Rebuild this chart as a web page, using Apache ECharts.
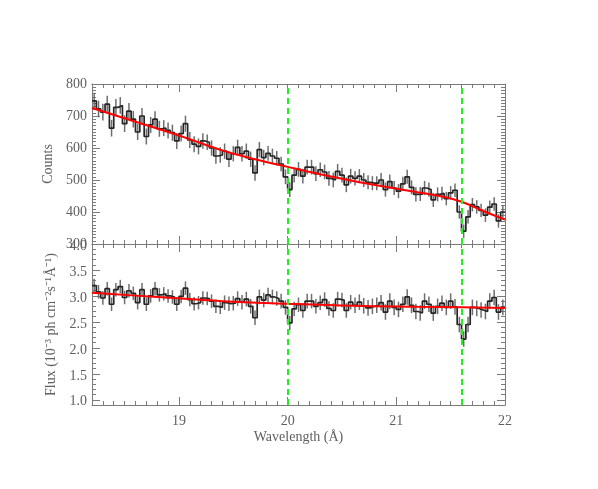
<!DOCTYPE html>
<html>
<head>
<meta charset="utf-8">
<script src="https://cdn.jsdelivr.net/npm/echarts@6/dist/echarts.min.js"></script>
<style>
html,body{margin:0;padding:0;background:#fff;}
#chart{width:598px;height:489px;}
</style>
</head>
<body>
<div id="chart"></div>
<script>
// ---- data ----
const binStart = 18.2;
const binWidth = 0.04;
const counts = [
747, 722, 712, 737, 662, 727, 733, 676, 715, 690,
650, 700, 636, 672, 690, 660, 662, 655, 648, 622,
645, 676, 625, 612, 605, 622, 618, 600, 575, 578,
590, 565, 582, 602, 582, 590, 565, 522, 595, 570,
583, 575, 568, 550, 510, 470, 515, 533, 512, 540,
540, 520, 532, 525, 505, 500, 527, 515, 485, 512,
505, 512, 500, 493, 490, 490, 500, 470, 495, 475,
465, 488, 510, 477, 455, 456, 475, 470, 438, 455,
458, 442, 460, 468, 400, 340, 385, 423, 416, 405,
390, 415, 425, 372, 400
];
const countErr = [
26, 26, 26, 26, 26, 26, 26, 26, 26, 26,
25, 25, 25, 25, 25, 25, 25, 25, 25, 25,
25, 25, 25, 25, 25, 24, 24, 24, 24, 24,
24, 24, 24, 24, 24, 24, 24, 24, 24, 24,
23, 23, 23, 23, 23, 23, 23, 23, 23, 23,
23, 23, 23, 23, 23, 23, 23, 23, 23, 23,
22, 22, 22, 22, 22, 22, 22, 22, 22, 22,
22, 22, 22, 22, 22, 22, 22, 22, 22, 22,
21, 21, 21, 21, 21, 21, 21, 21, 21, 21,
21, 21, 21, 21, 21
];
const flux = [
3.20, 3.08, 2.96, 3.14, 2.84, 3.12, 3.18, 2.97, 3.10, 3.05,
2.87, 3.12, 2.84, 3.00, 3.14, 3.02, 3.04, 3.00, 2.98, 2.84,
2.99, 3.15, 2.93, 2.85, 2.87, 2.96, 2.95, 2.90, 2.80, 2.78,
2.87, 2.85, 2.86, 2.95, 2.88, 2.94, 2.80, 2.58, 2.98, 2.92,
3.02, 2.98, 2.95, 2.90, 2.78, 2.48, 2.75, 2.83, 2.72, 2.90,
2.90, 2.80, 2.87, 2.93, 2.76, 2.72, 2.94, 2.92, 2.72, 2.88,
2.82, 2.88, 2.81, 2.77, 2.80, 2.82, 2.87, 2.69, 2.90, 2.78,
2.74, 2.84, 2.98, 2.82, 2.70, 2.67, 2.90, 2.84, 2.67, 2.80,
2.86, 2.78, 2.90, 2.79, 2.45, 2.17, 2.45, 2.78, 2.76, 2.73,
2.70, 2.90, 2.97, 2.69, 2.78
];
const fluxErr = [
0.13, 0.13, 0.13, 0.13, 0.13, 0.13, 0.13, 0.13, 0.13, 0.13,
0.13, 0.13, 0.13, 0.13, 0.13, 0.13, 0.13, 0.13, 0.13, 0.13,
0.13, 0.13, 0.13, 0.13, 0.13, 0.13, 0.13, 0.13, 0.13, 0.13,
0.14, 0.14, 0.14, 0.14, 0.14, 0.14, 0.14, 0.14, 0.14, 0.14,
0.14, 0.14, 0.14, 0.14, 0.14, 0.14, 0.14, 0.14, 0.14, 0.14,
0.14, 0.14, 0.14, 0.14, 0.14, 0.14, 0.14, 0.14, 0.14, 0.14,
0.15, 0.15, 0.15, 0.15, 0.15, 0.15, 0.15, 0.15, 0.15, 0.15,
0.15, 0.15, 0.15, 0.15, 0.15, 0.15, 0.15, 0.15, 0.15, 0.15,
0.15, 0.15, 0.15, 0.15, 0.15, 0.15, 0.15, 0.15, 0.15, 0.15,
0.15, 0.15, 0.15, 0.15, 0.15
];
const modelWave   = [18.2, 18.6, 19.0, 19.4, 19.7, 20.0, 20.3, 20.65, 21.1, 21.4, 21.6, 21.8, 22.0];
const modelCounts = [725, 682, 639, 592, 565, 541, 518, 494, 467, 450, 432, 403, 376];
const modelFluxWave = [18.2, 18.8, 19.4, 20.0, 20.6, 21.2, 21.6, 22.0];
const modelFlux     = [3.06, 2.98, 2.90, 2.85, 2.81, 2.79, 2.78, 2.77];
const lineMarkers = [20.0, 21.6];
const xTicks = [19, 20, 21, 22];
const fluxTicks = [1.0, 1.5, 2.0, 2.5, 3.0, 3.5, 4.0];

// ---- build ----
const r6 = v => Math.round(v * 1e6) / 1e6;
function stepData(vals) {
  const d = vals.map((v, k) => [r6(binStart + k * binWidth), v]);
  d.push([r6(binStart + vals.length * binWidth), vals[vals.length - 1]]);
  return d;
}
function errData(vals, errs) {
  return vals.map((v, k) => [r6(binStart + (k + 0.5) * binWidth), v - errs[k], v + errs[k]]);
}
const FONT = 'Liberation Serif';
const AX = '#7a7a7a';
const TXT = '#606060';

function xAx(grid, pos, major, labels) {
  const a = {
    type: 'value', gridIndex: grid, position: pos, min: 18.2, max: 22,
    splitLine: {show: false},
    axisLine: {show: !major, lineStyle: {color: AX, width: 1}, onZero: false},
  };
  if (major) {
    a.axisTick = {show: true, inside: true, length: 8, customValues: xTicks, lineStyle: {color: AX}};
    a.axisLabel = labels ? {show: true, customValues: xTicks, color: TXT, fontFamily: FONT, fontSize: 14, margin: 9,
                            showMaxLabel: true, formatter: v => String(Math.round(v))} : {show: false};
    if (labels) {
      a.name = 'Wavelength (Å)';
      a.nameLocation = 'middle';
      a.nameGap = 25;
      a.nameTextStyle = {color: TXT, fontFamily: FONT, fontSize: 14};
    }
  } else {
    a.interval = 0.1;
    a.axisTick = {show: true, inside: true, length: 4, lineStyle: {color: AX}};
    a.axisLabel = {show: false};
  }
  return a;
}
const xAxes = [
  xAx(0, 'bottom', false), xAx(0, 'bottom', true, false), xAx(0, 'top', false), xAx(0, 'top', true, false),
  xAx(1, 'bottom', false), xAx(1, 'bottom', true, true), xAx(1, 'top', false), xAx(1, 'top', true, false)
];

const yAxes = [
  {type: 'value', gridIndex: 0, position: 'left', min: 300, max: 800, interval: 100,
   splitLine: {show: false},
   axisLine: {show: true, lineStyle: {color: AX}, onZero: false},
   axisTick: {show: true, inside: true, length: 8, lineStyle: {color: AX}},
   minorTick: {show: true, splitNumber: 10, length: 4, lineStyle: {color: AX}},
   axisLabel: {color: TXT, fontFamily: FONT, fontSize: 14, margin: 5, showMinLabel: true, showMaxLabel: true},
   name: 'Counts', nameLocation: 'middle', nameGap: 34,
   nameTextStyle: {color: TXT, fontFamily: FONT, fontSize: 14}},
  {type: 'value', gridIndex: 0, position: 'right', min: 300, max: 800, interval: 100,
   splitLine: {show: false},
   axisLine: {show: true, lineStyle: {color: AX}, onZero: false},
   axisTick: {show: true, inside: true, length: 8, lineStyle: {color: AX}},
   minorTick: {show: true, splitNumber: 10, length: 4, lineStyle: {color: AX}},
   axisLabel: {show: false}},
  {type: 'value', gridIndex: 1, position: 'left', min: 0.9, max: 4.0, interval: 0.1,
   splitLine: {show: false},
   axisLine: {show: true, lineStyle: {color: AX}, onZero: false},
   axisTick: {show: true, inside: true, length: 4, lineStyle: {color: AX}},
   axisLabel: {show: false}},
  {type: 'value', gridIndex: 1, position: 'left', min: 0.9, max: 4.005,
   splitLine: {show: false},
   axisLine: {show: false},
   axisTick: {show: true, inside: true, length: 8, customValues: fluxTicks, lineStyle: {color: AX}},
   axisLabel: {show: true, customValues: fluxTicks, color: TXT, fontFamily: FONT, fontSize: 14, margin: 5,
               showMinLabel: true, showMaxLabel: true, hideOverlap: false, verticalAlign: 'top',
               lineHeight: 14, padding: [-5, 0, 0, 0],
               formatter: v => v.toFixed(1)},
   name: 'Flux (10⁻³ ph cm⁻²s⁻¹Å⁻¹)', nameLocation: 'middle', nameGap: 31,
   nameTextStyle: {color: TXT, fontFamily: FONT, fontSize: 14, verticalAlign: 'bottom', padding: 0}},
  {type: 'value', gridIndex: 1, position: 'right', min: 0.9, max: 4.0, interval: 0.1,
   splitLine: {show: false},
   axisLine: {show: true, lineStyle: {color: AX}, onZero: false},
   axisTick: {show: true, inside: true, length: 4, lineStyle: {color: AX}},
   axisLabel: {show: false}},
  {type: 'value', gridIndex: 1, position: 'right', min: 0.9, max: 4.0,
   splitLine: {show: false},
   axisLine: {show: false},
   axisTick: {show: true, inside: true, length: 8, customValues: fluxTicks, lineStyle: {color: AX}},
   axisLabel: {show: false}}
];

function errSeries(xi, yi, data) {
  return {
    type: 'custom', xAxisIndex: xi, yAxisIndex: yi, data: data, z: 2,
    encode: {x: 0, y: [1, 2]},
    renderItem: (params, api) => {
      const x = api.value(0);
      const p1 = api.coord([x, api.value(1)]);
      const p2 = api.coord([x, api.value(2)]);
      return {type: 'line', shape: {x1: p1[0], y1: p1[1], x2: p2[0], y2: p2[1]},
              style: {stroke: '#6e6e6e', lineWidth: 1.5}};
    }
  };
}
function markers() {
  return {
    silent: true, symbol: 'none', label: {show: false},
    lineStyle: {color: '#22ee22', type: [6, 4], width: 2},
    data: lineMarkers.map(v => ({xAxis: v})), z: 10
  };
}

const option = {
  animation: false,
  backgroundColor: '#ffffff',
  grid: [
    {left: 92, right: 93, top: 84, height: 160},
    {left: 92, right: 93, top: 244, height: 161}
  ],
  xAxis: xAxes,
  yAxis: yAxes,
  series: [
    errSeries(0, 0, errData(counts, countErr)),
    {type: 'line', xAxisIndex: 0, yAxisIndex: 0, data: stepData(counts), step: 'end',
     symbol: 'none', z: 3, lineStyle: {color: '#262626', width: 1.7}, markLine: markers()},
    {type: 'line', xAxisIndex: 0, yAxisIndex: 0, data: modelWave.map((w, i) => [w, modelCounts[i]]),
     smooth: 0.4, symbol: 'none', z: 5, lineStyle: {color: '#ff0000', width: 2}},
    errSeries(4, 2, errData(flux, fluxErr)),
    {type: 'line', xAxisIndex: 4, yAxisIndex: 2, data: stepData(flux), step: 'end',
     symbol: 'none', z: 3, lineStyle: {color: '#262626', width: 1.7}, markLine: markers()},
    {type: 'line', xAxisIndex: 4, yAxisIndex: 2, data: modelFluxWave.map((w, i) => [w, modelFlux[i]]),
     smooth: 0.4, symbol: 'none', z: 5, lineStyle: {color: '#ff0000', width: 2}}
  ]
};
const chart = echarts.init(document.getElementById('chart'), null, {renderer: 'canvas'});
chart.setOption(option);
</script>
</body>
</html>
